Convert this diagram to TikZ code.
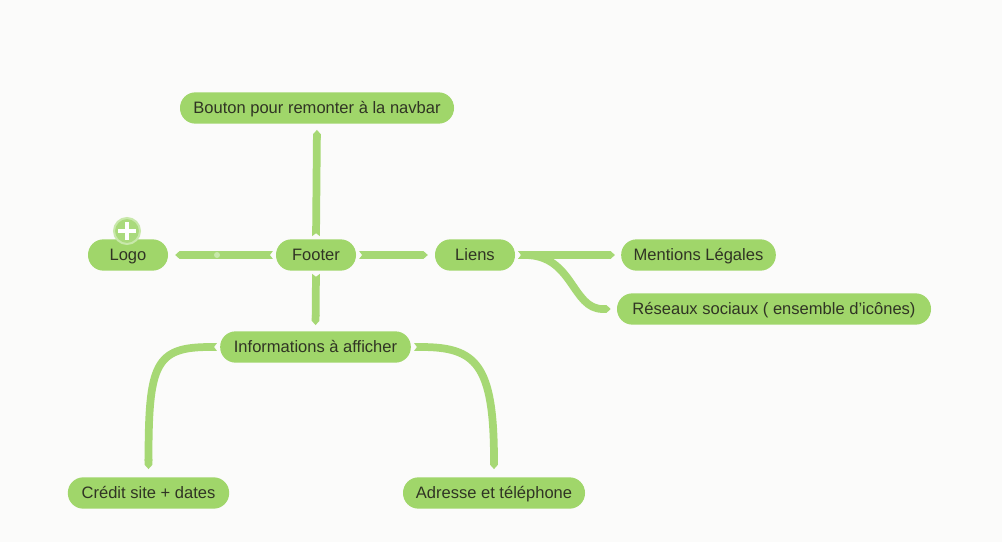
\documentclass[tikz,border=0pt]{standalone}
\usepackage{fontspec}
\setmainfont{Liberation Sans}
\usetikzlibrary{arrows.meta}
\definecolor{nodegreen}{RGB}{160,214,106}
\definecolor{conngreen}{RGB}{166,216,116}
\definecolor{txt}{RGB}{48,52,36}
\definecolor{bg}{RGB}{251,251,250}
\definecolor{plusfill}{RGB}{170,218,124}
\definecolor{plusring}{RGB}{200,232,170}
\begin{document}
\begin{tikzpicture}[x=0.75pt,y=-0.75pt,
  topic/.style={fill=nodegreen,text=txt,rounded corners=11.6pt,minimum height=23.5pt,inner sep=0pt,
     text height=9.6pt,text depth=1.1pt,font=\fontsize{12.4}{15}\selectfont},
  conn/.style={draw=conngreen,line width=5.8pt,
     {Triangle Cap[reversed,length=2.2pt]}-{Triangle Cap[length=3.2pt]}}]
\useasboundingbox[fill=bg] (0,0) rectangle (1002,542);
\node[topic,minimum width=205.5pt] (bouton) at (317,108) {Bouton pour remonter à la navbar};
\node[topic,minimum width=60pt] (logo) at (128,255) {Logo};
\node[topic,minimum width=60pt] (footer) at (316,255) {Footer};
\node[topic,minimum width=60pt] (liens) at (475,255) {Liens};
\node[topic,minimum width=116pt] (mentions) at (698.5,255) {Mentions Légales};
\node[topic,minimum width=235.5pt] (reseaux) at (774,309) {Réseaux sociaux ( ensemble d’icônes)};
\node[topic,minimum width=143pt] (infos) at (315.5,347) {Informations à afficher};
\node[topic,minimum width=121pt] (credit) at (148.5,493) {Crédit site + dates};
\node[topic,minimum width=136.5pt] (adresse) at (494,493) {Adresse et téléphone};
% connectors
\draw[conn,shorten <=2.2pt,shorten >=4.5pt] (footer.north) -- (bouton.south);
\draw[conn,shorten <=2.2pt,shorten >=4.5pt] (footer.south) -- (infos.north);
\draw[conn,shorten <=2.2pt,shorten >=5.2pt] (footer.west) -- (logo.east);
\draw[conn,shorten <=2.2pt,shorten >=5.2pt] (footer.east) -- (liens.east -| liens.west);
\draw[conn,shorten <=2.2pt,shorten >=4.5pt] (liens.east) -- (mentions.west);
\draw[conn,shorten <=2.2pt,shorten >=4.5pt] (liens.east) .. controls +(58,0) and +(-45,0) .. (reseaux.west);
\draw[conn,shorten <=2.2pt] (infos.west) .. controls +(-65,0) and +(0,-105) .. ([yshift=6pt]credit.north);
\draw[conn,shorten <=2.2pt] (infos.east) .. controls +(65,0) and +(0,-105) .. ([yshift=6pt]adresse.north);
% dot on logo connector
\node[circle,fill=plusring,minimum size=4.5pt,inner sep=0pt] (dot) at (217,255) {};
% plus icon
\node[circle,fill=plusfill,draw=plusring,line width=1.5pt,minimum size=19.5pt,inner sep=0pt] (plus) at (127,231) {};
\draw[white,line width=2.4pt] ([xshift=-6.5pt]plus.center) -- ([xshift=6.5pt]plus.center);
\draw[white,line width=2.4pt] ([yshift=-6.5pt]plus.center) -- ([yshift=6.5pt]plus.center);
\end{tikzpicture}
\end{document}
